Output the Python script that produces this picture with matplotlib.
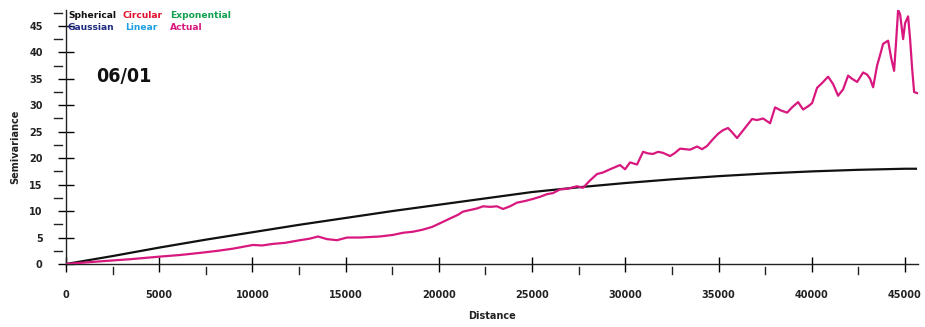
import matplotlib
matplotlib.use("Agg")
import matplotlib.pyplot as plt
import matplotlib.transforms as mtrans
import numpy as np

# ---- data ----
model_dist = [0, 2500, 5000, 7500, 10000, 12500, 15000, 17500, 20000, 22500,
              25000, 27500, 30000, 32500, 35000, 37500, 40000, 42500, 45000, 45650]
spherical = [0, 1.5, 3.1, 4.6, 6.0, 7.4, 8.7, 10.0, 11.2, 12.4,
             13.6, 14.5, 15.3, 16.0, 16.6, 17.1, 17.5, 17.8, 18.0, 18.0]

actual_dist = [0, 1824, 3433, 5042, 6115, 7188, 8153, 8958, 10031, 10514, 11104, 11747,
               12552, 13089, 13518, 14000, 14537, 15073, 15770, 16843, 17540, 18077,
               18613, 19150, 19633, 20062, 20598, 21027, 21296, 21671, 22047, 22369,
               22744, 23120, 23442, 23817, 24193, 24622, 25051, 25426, 25802, 26124,
               26499, 26875, 27411, 27733, 28109, 28484, 28806, 29182, 29718, 29986,
               30254, 30630, 30952, 31220, 31488, 31757, 32025, 32400, 32669, 32937,
               33473, 33849, 34117, 34385, 34654, 34976, 35244, 35512, 35727, 35995,
               36263, 36532, 36800, 37068, 37390, 37766, 38034, 38356, 38678, 38946,
               39268, 39536, 39805, 40019, 40287, 40556, 40878, 41146, 41414, 41682,
               41951, 42165, 42434, 42756, 42970, 43131, 43292, 43506, 43667, 43828,
               44096, 44257, 44418, 44525, 44633, 44740, 44901, 45008, 45169, 45276,
               45384, 45491, 45652]
actual = [0, 0.5, 0.9, 1.4, 1.7, 2.1, 2.5, 2.9, 3.6, 3.5, 3.8, 4.0,
          4.5, 4.8, 5.2, 4.7, 4.5, 5.0, 5.0, 5.2, 5.5, 5.9,
          6.1, 6.5, 7.0, 7.7, 8.6, 9.3, 9.9, 10.2, 10.5, 10.9,
          10.8, 10.9, 10.4, 10.9, 11.6, 11.9, 12.3, 12.7, 13.2, 13.4,
          14.1, 14.2, 14.7, 14.4, 15.8, 17.0, 17.3, 17.9, 18.7, 17.9,
          19.2, 18.8, 21.2, 20.9, 20.8, 21.2, 21.0, 20.4, 21.0, 21.8,
          21.6, 22.2, 21.7, 22.3, 23.4, 24.6, 25.3, 25.7, 24.9, 23.8,
          25.0, 26.2, 27.4, 27.2, 27.5, 26.6, 29.6, 29.0, 28.6, 29.6,
          30.6, 29.2, 29.8, 30.4, 33.3, 34.2, 35.4, 34.0, 31.8, 33.0,
          35.6, 35.0, 34.4, 36.2, 35.8, 35.0, 33.4, 37.5, 39.5, 41.6,
          42.2, 39.0, 36.5, 42.0, 48.0, 47.2, 42.5, 45.5, 46.8, 42.5,
          37.0, 32.5, 32.3]

x_major = [0, 5000, 10000, 15000, 20000, 25000, 30000, 35000, 40000, 45000]
y_major = [0, 5, 10, 15, 20, 25, 30, 35, 40, 45]
legend_names = ["Spherical", "Circular", "Exponential", "Gaussian", "Linear", "Actual"]
legend_colors = ["#111111", "#E0102E", "#12A050", "#1F2A80", "#1E9FE0", "#D8187E"]
date_label = "06/01"

W, H = 925, 327
fig = plt.figure(figsize=(W / 100, H / 100), dpi=100)
ax = fig.add_axes([66 / W, 1 - 264 / H, (918 - 66) / W, (264 - 10) / H])
ax.set_xlim(0, 45700)
ax.set_ylim(0, 48)

ax.plot(model_dist, spherical, color="#111111", lw=1.6, solid_capstyle="butt", zorder=3)
ax.plot(actual_dist, actual, color="#D8187E", lw=1.6, zorder=4)

for s in ["top", "right"]:
    ax.spines[s].set_visible(False)
for s in ["left", "bottom"]:
    ax.spines[s].set_linewidth(1.0)
    ax.spines[s].set_color("#222222")

ax.set_xticks(x_major)
ax.set_yticks(y_major)
ax.set_xticklabels([str(v) for v in x_major])
ax.set_yticklabels([str(v) for v in y_major])
ax.tick_params(axis="x", direction="inout", length=10.8, width=1.0, pad=13,
               labelsize=7, labelcolor="#222222")
ax.tick_params(axis="y", direction="inout", length=11.5, width=1.0, pad=11,
               labelsize=7, labelcolor="#222222")
for lab in ax.get_xticklabels() + ax.get_yticklabels():
    lab.set_fontweight("bold")

# detached minor ticks
aw = 918 - 66
ah = 264 - 10
tr_y = mtrans.blended_transform_factory(ax.transAxes, ax.transData)
for v in np.array(y_major) + 2.5:
    ax.plot([(54 - 66) / aw, (62 - 66) / aw], [v, v], transform=tr_y,
            color="#222222", lw=1.0, clip_on=False)
tr_x = mtrans.blended_transform_factory(ax.transData, ax.transAxes)
for v in np.array(x_major[:-1]) + 2500:
    ax.plot([v, v], [-(267 - 264) / ah, -(274 - 264) / ah], transform=tr_x,
            color="#222222", lw=1.0, clip_on=False)

fig.text(492 / W, 1 - 316 / H, "Distance", ha="center", va="center",
         fontsize=7, fontweight="bold", color="#222222")
fig.text(15 / W, 1 - 147 / H, "Semivariance", ha="center", va="center",
         rotation=90, fontsize=7, fontweight="bold", color="#222222")

# legend text rows
pos = [(68, 16), (122, 16), (170, 16), (68, 28), (125, 28), (170, 28)]
for name, c, (px, py) in zip(legend_names, legend_colors, pos):
    fig.text(px / W, 1 - py / H, name, ha="left", va="center", fontsize=6.6,
             fontweight="bold", color=c)

fig.text(96 / W, 1 - 76 / H, date_label, ha="left", va="center", fontsize=14,
         family="DejaVu Sans", fontstretch="condensed", fontweight="bold",
         color="#111111")

fig.savefig("out.png", dpi=100)
